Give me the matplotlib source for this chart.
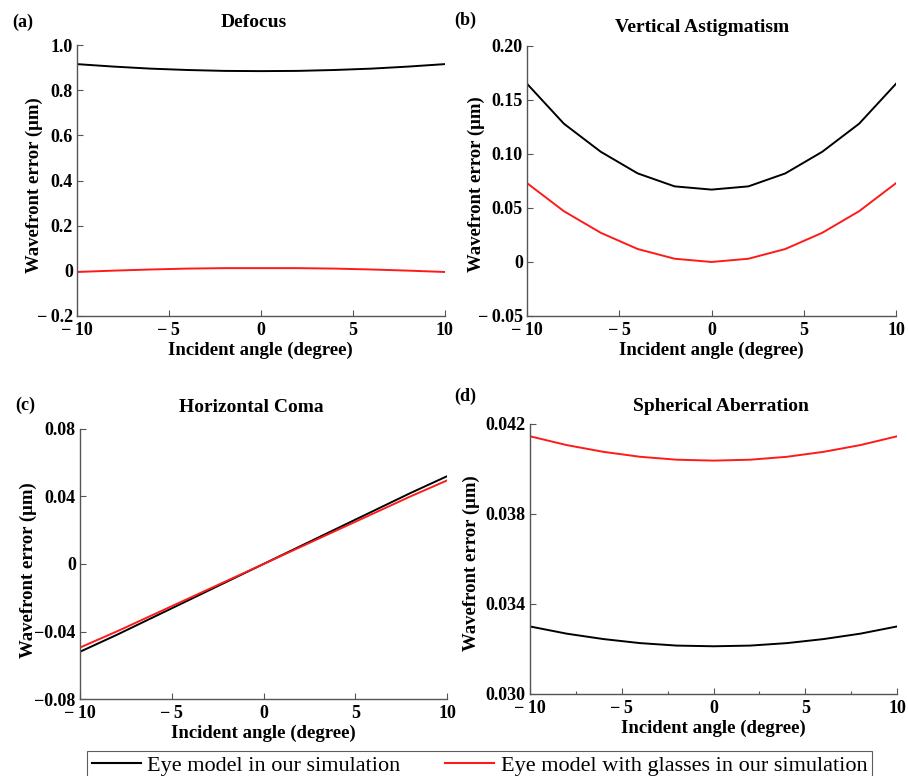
import numpy as np
import matplotlib
matplotlib.use("Agg")
import matplotlib.pyplot as plt
from matplotlib.lines import Line2D

plt.rcParams['font.family'] = ['Liberation Serif', 'DejaVu Serif']
plt.rcParams['mathtext.default'] = 'regular'

# incident angle (degree)
angle = [-10, -8, -6, -4, -2, 0, 2, 4, 6, 8, 10]

# (a) Defocus
defocus_eye = [0.916, 0.905, 0.896, 0.890, 0.886, 0.885, 0.886, 0.890, 0.896, 0.905, 0.916]
defocus_glasses = [-0.005, 0.001, 0.006, 0.010, 0.012, 0.012, 0.012, 0.010, 0.006, 0.001, -0.005]

# (b) Vertical Astigmatism
astig_eye = [0.165, 0.128, 0.102, 0.082, 0.070, 0.067, 0.070, 0.082, 0.102, 0.128, 0.165]
astig_glasses = [0.073, 0.047, 0.027, 0.012, 0.003, 0.0, 0.003, 0.012, 0.027, 0.047, 0.073]

# (c) Horizontal Coma
coma_eye = [-0.052, -0.042, -0.0315, -0.021, -0.0105, 0.0, 0.0105, 0.021, 0.0315, 0.042, 0.052]
coma_glasses = [-0.0495, -0.040, -0.030, -0.020, -0.010, 0.0, 0.010, 0.020, 0.030, 0.040, 0.0495]

# (d) Spherical Aberration
sph_eye = [0.0330, 0.03268, 0.03244, 0.03226, 0.03215, 0.03212, 0.03215, 0.03226, 0.03244, 0.03268, 0.0330]
sph_glasses = [0.04145, 0.04106, 0.04076, 0.04054, 0.04041, 0.04037, 0.04041, 0.04054, 0.04076, 0.04106, 0.04145]

x_ticks = [-10, -5, 0, 5, 10]
x_ticklabels = ['\u2212\u200910', '\u2212\u20095', '0', '5', '10']

panels = [
    dict(tag='(a)', title='Defocus', eye=defocus_eye, gl=defocus_glasses,
         ylim=(-0.2, 1.0), yticks=[-0.2, 0, 0.2, 0.4, 0.6, 0.8, 1.0],
         ylabels=['\u2212\u20090.2', '0', '0.2', '0.4', '0.6', '0.8', '1.0'],
         rect=[0.0848, 0.5928, 0.405, 0.349],
         title_xy=(0.48, 1.085), ylab_xy=(-0.115, 0.483), tag_xy=(12, 22)),
    dict(tag='(b)', title='Vertical Astigmatism', eye=astig_eye, gl=astig_glasses,
         ylim=(-0.05, 0.20), yticks=[-0.05, 0, 0.05, 0.10, 0.15, 0.20],
         ylabels=['\u2212\u20090.05', '0', '0.05', '0.10', '0.15', '0.20'],
         rect=[0.5804, 0.5928, 0.4064, 0.348],
         title_xy=(0.474, 1.07), ylab_xy=(-0.138, 0.49), tag_xy=(454, 20)),
    dict(tag='(c)', title='Horizontal Coma', eye=coma_eye, gl=coma_glasses,
         ylim=(-0.08, 0.08), yticks=[-0.08, -0.04, 0, 0.04, 0.08],
         ylabels=['\u22120.08', '\u22120.04', '0', '0.04', '0.08'],
         rect=[0.0881, 0.0992, 0.4042, 0.348],
         title_xy=(0.468, 1.08), ylab_xy=(-0.142, 0.478), tag_xy=(15, 405)),
    dict(tag='(d)', title='Spherical Aberration', eye=sph_eye, gl=sph_glasses,
         ylim=(0.030, 0.042), yticks=[0.030, 0.034, 0.038, 0.042],
         ylabels=['0.030', '0.034', '0.038', '0.042'],
         rect=[0.5837, 0.1057, 0.4042, 0.348],
         title_xy=(0.52, 1.065), ylab_xy=(-0.16, 0.485), tag_xy=(454, 396)),
]

W, H = 908, 776
fig = plt.figure(figsize=(W / 100, H / 100), dpi=100)

for p in panels:
    ax = fig.add_axes(p['rect'])
    ax.plot(angle, p['eye'], color='black', linewidth=1.4)
    ax.plot(angle, p['gl'], color='#ff1a1a', linewidth=1.4)
    ax.set_xlim(-10, 10)
    ax.set_ylim(*p['ylim'])
    ax.set_xticks(x_ticks, x_ticklabels)
    ax.set_yticks(p['yticks'], p['ylabels'])
    if p['tag'] == '(d)':
        ax.set_xticks([-7.5, -2.5, 2.5, 7.5], minor=True)
    ax.tick_params(direction='in', length=4, width=0.8, labelsize=13, color='#555555')
    ax.tick_params(axis='x', pad=4)
    ax.tick_params(axis='y', pad=3)
    ax.tick_params(which='minor', direction='in', length=2.5, width=0.8, color='#555555')
    for lab in ax.get_xticklabels() + ax.get_yticklabels():
        lab.set_fontweight('bold')
    ax.spines['top'].set_visible(False)
    ax.spines['right'].set_visible(False)
    for s in ['left', 'bottom']:
        ax.spines[s].set_color('#555555')
        ax.spines[s].set_linewidth(1.0)
    ax.text(p['title_xy'][0], p['title_xy'][1], p['title'], transform=ax.transAxes,
            ha='center', va='center', fontsize=14, fontweight='bold')
    ax.set_xlabel('Incident angle (degree)', fontsize=13.5, fontweight='bold')
    ax.xaxis.set_label_coords(0.5, -0.128)
    ax.set_ylabel('Wavefront error (\u03bcm)', fontsize=13.5, fontweight='bold')
    ax.yaxis.set_label_coords(*p['ylab_xy'])
    ax.yaxis.label.set_va('center')
    ax.xaxis.label.set_va('center')
    fig.text(p['tag_xy'][0] / W, 1 - p['tag_xy'][1] / H, p['tag'],
             fontsize=13, fontweight='bold', va='center', ha='left')

handles = [Line2D([], [], color='black', linewidth=1.5),
           Line2D([], [], color='#ff1a1a', linewidth=1.5)]
labels = ['Eye model in our simulation', 'Eye model with glasses in our simulation']
leg = fig.legend(handles, labels, loc='upper center', bbox_to_anchor=(0.528, 0.0325),
                 ncol=2, fontsize=16, frameon=True, fancybox=False, edgecolor='#333333',
                 handlelength=2.2, handletextpad=0.3, columnspacing=2.0,
                 borderpad=0.2, borderaxespad=0)
leg.get_frame().set_linewidth(0.8)

fig.savefig('out.png', dpi=100)
